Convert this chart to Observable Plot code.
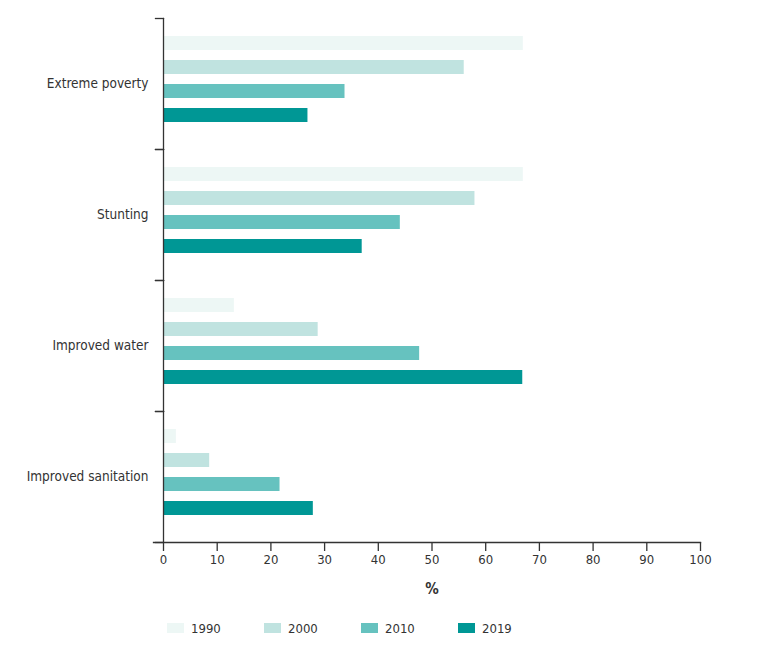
<!DOCTYPE html>
<html><head><meta charset="utf-8">
<script src="https://cdn.jsdelivr.net/npm/d3@7"></script>
<script src="https://cdn.jsdelivr.net/npm/@observablehq/plot@0.6"></script>
<style>
body{margin:0;background:#fff;font-family:"Liberation Sans Narrow","DejaVu Sans Condensed",sans-serif;}
#legend{display:flex;padding-left:167px;margin-top:13px;height:20px;align-items:center;font-size:13px;color:#333}
.item{display:flex;align-items:center;width:97px}
.sw{width:17px;height:10px;margin-right:7px}
</style></head><body><div id="chart"></div><div id="legend"></div>
<script>
const categories = ["Extreme poverty", "Stunting", "Improved water", "Improved sanitation"];
const years = ["1990", "2000", "2010", "2019"];
const v1990 = [67, 67, 13.2, 2.4];
const v2000 = [56, 58, 28.8, 8.6];
const v2010 = [33.8, 44.1, 47.7, 21.7];
const v2019 = [26.9, 37, 66.9, 27.9];
const xTicks = [0, 10, 20, 30, 40, 50, 60, 70, 80, 90, 100];
const colors = ["#edf7f5", "#c0e3e0", "#66c2bf", "#009795"];

const series = [v1990, v2000, v2010, v2019];
const rows = [];
categories.forEach((c, i) => years.forEach((y, j) => rows.push({category: c, year: y, value: series[j][i]})));

const ink = "#333";
const chart = Plot.plot({
  width: 771,
  height: 605,
  marginTop: 16,
  marginBottom: 62,
  marginLeft: 163,
  marginRight: 71,
  style: {fontFamily: '"Liberation Sans Narrow","DejaVu Sans Condensed",sans-serif', fontSize: "13px", color: ink, background: "#fff"},
  x: {domain: [0, 100]},
  y: {domain: years, axis: null, paddingInner: 0.42, paddingOuter: 0.92, align: 0.39},
  fy: {domain: categories, padding: 0},
  color: {domain: years, range: colors},
  marks: [
    Plot.barX(rows, {x: "value", y: "year", fy: "category", fill: "year"}),
    Plot.frame({anchor: "left", stroke: ink, strokeWidth: 1.3}),
    Plot.frame({anchor: "top", stroke: ink, strokeWidth: 1.3, insetLeft: -8, insetRight: 537}),
    Plot.frame({anchor: "bottom", stroke: ink, strokeWidth: 1.3, insetLeft: -8, insetRight: 537}),
    Plot.frame({anchor: "bottom", stroke: ink, strokeWidth: 1.3, insetLeft: -10, facetAnchor: "bottom"}),
    Plot.axisX({ticks: xTicks, tickSize: 9, tickPadding: 3, label: null, stroke: ink, strokeWidth: 1.3, fill: ink, fontSize: 13}),
    Plot.axisFy({anchor: "left", tickSize: 0, tickPadding: 15, label: null, fill: ink, fontSize: 13.5}),
    Plot.text(["%"], {text: d => d, frameAnchor: "bottom", dy: 51, facet: "super", fontWeight: "bold", fontSize: 15, fill: ink})
  ]
});
document.getElementById("chart").append(chart);

const color = chart.scale("color");
const legend = document.getElementById("legend");
color.domain.forEach((y, i) => {
  const it = document.createElement("div");
  it.className = "item";
  const sw = document.createElement("span");
  sw.className = "sw";
  sw.style.background = color.range[i];
  const lb = document.createElement("span");
  lb.textContent = y;
  it.append(sw, lb);
  legend.append(it);
});
</script></body></html>
